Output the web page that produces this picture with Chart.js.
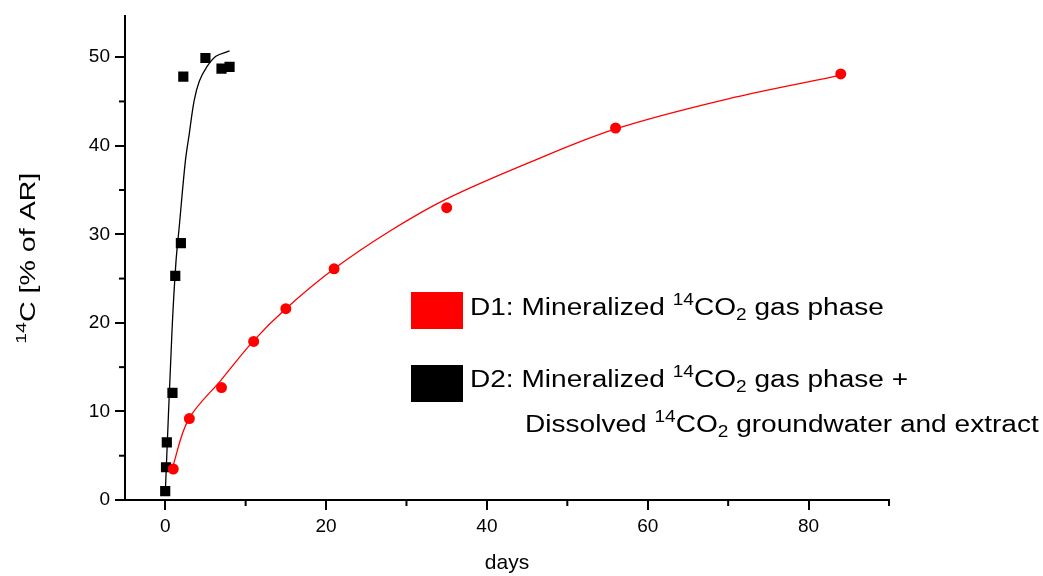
<!DOCTYPE html>
<html>
<head>
<meta charset="utf-8">
<script src="https://cdn.jsdelivr.net/npm/chart.js@4.4.1/dist/chart.umd.min.js"></script>
<style>
  body { margin: 0; background: #fff; }
  #wrap { width: 1043px; height: 576px; }
</style>
</head>
<body>
<div id="wrap"><canvas id="chart" width="1043" height="576"></canvas></div>
<script>
// measured points
const daysD1 = [1, 3, 7, 11, 15, 21, 35, 56, 84];
const valuesD1 = [3.5, 9.2, 12.7, 17.9, 21.6, 26.1, 33.0, 42.0, 48.1];
const daysD2 = [0, 0.1, 0.2, 0.9, 1.25, 1.95, 2.25, 5, 7, 8];
const valuesD2 = [1.0, 3.7, 6.5, 12.1, 25.3, 29.0, 47.8, 49.9, 48.7, 48.9];

// fitted curves
const fitDaysD1 = [0.85, 2.9, 7, 11, 15, 21, 28, 35, 45, 56, 70, 84.2];
const fitValuesD1 = [3.5, 9.1, 13.6, 18.0, 21.6, 26.1, 30.4, 34.0, 38.0, 41.9, 45.3, 48.0];
const fitDaysD2 = [0, 0.84, 1.33, 1.75, 2.5, 3.0, 3.6, 4.25, 5.1, 6.3, 8.0];
const fitValuesD2 = [0.6, 19.0, 26.8, 30.9, 38.2, 41.4, 45.1, 47.3, 48.8, 50.1, 50.7];

const xMajorTicks = [0, 20, 40, 60, 80];
const xMinorTicks = [10, 30, 50, 70, 90];
const yMajorTicks = [0, 10, 20, 30, 40, 50];
const yMinorTicks = [5, 15, 25, 35, 45];

const seriesNames = ['D1: Mineralized ^{14}CO_{2} gas phase',
                     'D2: Mineralized ^{14}CO_{2} gas phase +'];
const seriesNote = 'Dissolved ^{14}CO_{2} groundwater and extract';
const seriesColors = ['#ff0000', '#000000'];
const yTitle = '^{14}C [% of AR]';

const FONT = "'Liberation Sans', Arial, sans-serif";

function toPts(xs, ys) {
    return xs.map((x, i) => ({x: x, y: ys[i]}));
}

// text with ^{..} and _{..}
function parseRich(text) {
    let parts = [];
    let re = /\^\{([^}]*)\}|_\{([^}]*)\}|([^\^_]+)/g;
    let m;
    while ((m = re.exec(text)) !== null) {
        if (m[1] !== undefined) parts.push({t: m[1], k: 'sup'});
        else if (m[2] !== undefined) parts.push({t: m[2], k: 'sub'});
        else parts.push({t: m[3], k: 'n'});
    }
    return parts;
}

function drawRich(ctx, text, x, y, size, sx, center) {
    let parts = parseRich(text);
    let widths = parts.map(p => {
        ctx.font = (p.k === 'n' ? size : size * 0.68) + 'px ' + FONT;
        return ctx.measureText(p.t).width;
    });
    let total = widths.reduce((a, b) => a + b, 0);
    ctx.save();
    ctx.translate(x, y);
    ctx.scale(sx, 1);
    let cx = center ? -total / 2 : 0;
    ctx.textBaseline = 'alphabetic';
    ctx.textAlign = 'left';
    parts.forEach((p, i) => {
        ctx.font = (p.k === 'n' ? size : size * 0.68) + 'px ' + FONT;
        let dy = p.k === 'sup' ? -size * 0.42 : (p.k === 'sub' ? size * 0.22 : 0);
        ctx.fillText(p.t, cx, dy);
        cx += widths[i];
    });
    ctx.restore();
}

const extras = {
    id: 'extras',
    afterDraw(chart) {
        const ctx = chart.ctx;
        const xs = chart.scales.x, ys = chart.scales.y;
        const area = chart.chartArea;
        ctx.save();
        ctx.strokeStyle = '#000';
        ctx.lineWidth = 2;
        // minor ticks
        xMinorTicks.forEach(v => {
            let px = xs.getPixelForValue(v);
            ctx.beginPath();
            ctx.moveTo(px, area.bottom);
            ctx.lineTo(px, area.bottom + 6);
            ctx.stroke();
        });
        yMinorTicks.forEach(v => {
            let py = ys.getPixelForValue(v);
            ctx.beginPath();
            ctx.moveTo(area.left, py);
            ctx.lineTo(area.left - 6, py);
            ctx.stroke();
        });
        ctx.fillStyle = '#000';
        // y title
        ctx.save();
        ctx.translate(35, (area.top + area.bottom) / 2);
        ctx.rotate(-Math.PI / 2);
        drawRich(ctx, yTitle, 0, 0, 22, 1.3, true);
        ctx.restore();
        // legend
        const boxX = 411, boxW = 52, boxH = 37;
        const boxY = [292, 365];
        const baseY = [315, 387];
        seriesNames.forEach((name, i) => {
            ctx.fillStyle = seriesColors[i];
            ctx.fillRect(boxX, boxY[i], boxW, boxH);
            ctx.fillStyle = '#000';
            drawRich(ctx, name, 470, baseY[i], 23, 1.22, false);
        });
        drawRich(ctx, seriesNote, 525, 432, 23, 1.22, false);
        ctx.restore();
    }
};

const ctx = document.getElementById('chart').getContext('2d');
const chart = new Chart(ctx, {
    type: 'scatter',
    data: {
        datasets: [
            {
                label: 'D1',
                data: toPts(daysD1, valuesD1),
                backgroundColor: seriesColors[0],
                borderColor: seriesColors[0],
                pointStyle: 'circle',
                pointRadius: 5.5,
                pointBorderWidth: 0,
                order: 0
            },
            {
                label: 'D2',
                data: toPts(daysD2, valuesD2),
                backgroundColor: seriesColors[1],
                borderColor: seriesColors[1],
                pointStyle: 'rect',
                pointRadius: 7.2,
                pointBorderWidth: 0,
                order: 0
            },
            {
                label: 'D1 fit',
                data: toPts(fitDaysD1, fitValuesD1),
                showLine: true,
                borderColor: seriesColors[0],
                borderWidth: 1.3,
                pointRadius: 0,
                tension: 0.35,
                order: 1
            },
            {
                label: 'D2 fit',
                data: toPts(fitDaysD2, fitValuesD2),
                showLine: true,
                borderColor: seriesColors[1],
                borderWidth: 1.3,
                pointRadius: 0,
                tension: 0.35,
                order: 1
            }
        ]
    },
    options: {
        responsive: false,
        animation: false,
        events: [],
        layout: { padding: { left: 0, top: 12, right: 154, bottom: 0 } },
        plugins: { legend: { display: false }, tooltip: { enabled: false } },
        scales: {
            x: {
                type: 'linear',
                min: -5,
                max: 90,
                afterFit: s => { s.height = 76; },
                afterBuildTicks: s => { s.ticks = xMajorTicks.map(v => ({value: v})); },
                ticks: { color: '#000', font: { family: FONT, size: 19 }, padding: 5, maxRotation: 0 },
                grid: { drawOnChartArea: false, color: '#000', lineWidth: 2, tickLength: 10 },
                border: { color: '#000', width: 2 },
                title: { display: true, text: 'days', color: '#000', font: { family: FONT, size: 21 }, padding: { top: 0, bottom: 0 } }
            },
            y: {
                type: 'linear',
                min: 0,
                max: 54.6,
                afterFit: s => { s.width = 125; },
                afterBuildTicks: s => { s.ticks = yMajorTicks.map(v => ({value: v})); },
                ticks: { color: '#000', font: { family: FONT, size: 19 }, padding: 5 },
                grid: { drawOnChartArea: false, color: '#000', lineWidth: 2, tickLength: 10 },
                border: { color: '#000', width: 2 }
            }
        }
    },
    plugins: [extras]
});
</script>
</body>
</html>
